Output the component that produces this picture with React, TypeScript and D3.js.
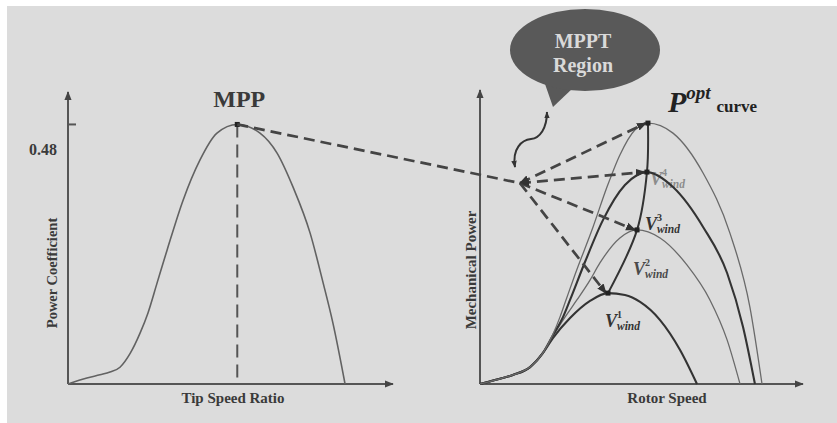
import React from "react";
import * as d3 from "d3";

const W = 837;
const H = 423;

// left panel: power coefficient against tip speed ratio
const tsr = [0, 0.7, 1.18, 1.55, 1.92, 2.3, 2.66, 2.95, 3.29, 3.66, 4.25, 4.87, 5.5, 6.25, 7.09, 7.72, 8.31, 8.94, 9.42, 9.78, 10.23];
const cp = [0, 0.011, 0.017, 0.022, 0.031, 0.057, 0.094, 0.131, 0.187, 0.248, 0.34, 0.414, 0.464, 0.48, 0.464, 0.427, 0.364, 0.279, 0.187, 0.113, 0];
const cpTickLabel = "0.48";

// right panel: mechanical power against rotor speed, one curve per wind speed
const windNames = ["1", "2", "3", "4"];
const speed1 = [0, 7.4, 16.3, 24.8, 31.2, 36.2, 44.6, 54.5, 63.4, 71.8, 79.3, 89.2, 99.1, 107.5];
const power1 = [0, 1.6, 3.7, 6.9, 12.7, 18.8, 26.9, 33.9, 37.1, 36.3, 33.5, 26.1, 13.9, 0];
const speed2 = [0, 7.4, 16.3, 24.8, 31.2, 36.2, 42.1, 48.0, 54.5, 59.4, 69.3, 77.8, 89.2, 102.5, 113.9, 122.4, 128.8];
const power2 = [0, 1.6, 3.7, 6.9, 12.7, 19.6, 27.3, 34.3, 42.4, 49.4, 59.6, 62.9, 59.6, 48.6, 34.3, 18.0, 0];
const speed3 = [0, 7.4, 16.3, 24.8, 31.2, 36.2, 41.1, 44.6, 52.0, 60.9, 71.8, 82.7, 95.6, 110.5, 122.4, 130.3, 136.2];
const power3 = [0, 1.6, 3.7, 6.9, 12.7, 20.0, 27.3, 34.3, 49.8, 66.9, 81.2, 86.5, 80.4, 64.1, 45.3, 23.3, 0];
const speed4 = [0, 7.4, 16.3, 24.8, 31.2, 36.2, 39.6, 42.6, 47.0, 56.0, 62.9, 69.3, 76.7, 83.2, 95.6, 110.5, 123.8, 133.7, 139.7];
const power4 = [0, 1.6, 3.7, 6.9, 12.7, 20.4, 27.3, 34.3, 44.5, 64.1, 80.4, 93.5, 103.7, 106.5, 102.4, 86.1, 61.6, 31.4, 0];

const SERIF = "'Liberation Serif', 'Times New Roman', serif";
const INK = "#3a3a3a";

export default function App() {
  // scales
  const xL = d3.scaleLinear().domain([0, 12]).range([68, 393]);
  const yL = d3.scaleLinear().domain([0, 0.54]).range([384, 92]);
  const xR = d3.scaleLinear().domain([0, 160]).range([480, 803]);
  const yR = d3.scaleLinear().domain([0, 120]).range([384, 90]);

  const cpPts: [number, number][] = tsr.map((t, i) => [t, cp[i]]);
  const lineL = d3.line<[number, number]>()
    .x(d => xL(d[0])).y(d => yL(d[1]))
    .curve(d3.curveMonotoneX);

  const series = [
    { s: speed1, p: power1, thick: true },
    { s: speed2, p: power2, thick: false },
    { s: speed3, p: power3, thick: true },
    { s: speed4, p: power4, thick: false },
  ].map((c, k) => {
    const pts: [number, number][] = c.s.map((v, i) => [v, c.p[i]]);
    const top = pts[d3.maxIndex(pts, d => d[1])];
    return { ...c, pts, top, name: windNames[k] };
  });

  const lineR = d3.line<[number, number]>()
    .x(d => xR(d[0])).y(d => yR(d[1]))
    .curve(d3.curveMonotoneX);
  const optLine = d3.line<[number, number]>()
    .x(d => xR(d[0])).y(d => yR(d[1]))
    .curve(d3.curveCatmullRom.alpha(0.5));

  const mppIdx = d3.maxIndex(cp);
  const mpp = { x: xL(tsr[mppIdx]), y: yL(cp[mppIdx]) };

  // point where the dashed guides meet
  const hub = { x: xR(19.8), y: yR(82) };

  // wavy double arrow to the bubble
  const wav = d3.path();
  wav.moveTo(hub.x - 5, hub.y - 16);
  wav.bezierCurveTo(hub.x - 8, hub.y - 35, hub.x + 2, hub.y - 43, hub.x + 11, hub.y - 44);
  wav.bezierCurveTo(hub.x + 20, hub.y - 45, hub.x + 27, hub.y - 55, hub.x + 27, hub.y - 71);

  // bubble
  const bub = { cx: 585, cy: 50, rx: 75, ry: 41 };

  const labelOffset = [[-3, 34], [-4, 45], [-2, 58], [2, 62]];
  const labelColor = ["#333", "#4a4a4a", "#333", "#8c8c8c"];

  const top4 = series[3].top;

  return (
    <div style={{ position: "absolute", left: 0, top: 0 }}>
      <svg width={W} height={H} style={{ display: "block", fontFamily: SERIF }}>
        <defs>
          <marker id="axArrow" viewBox="0 0 10 10" refX="9" refY="5" markerWidth="9" markerHeight="9"
            markerUnits="userSpaceOnUse" orient="auto">
            <path d="M0,1 L10,5 L0,9 z" fill="#444" />
          </marker>
          <marker id="dArrow" viewBox="0 0 10 10" refX="9" refY="5" markerWidth="10" markerHeight="10"
            markerUnits="userSpaceOnUse" orient="auto-start-reverse">
            <path d="M0,1 L10,5 L0,9 z" fill="#333" />
          </marker>
          <marker id="wArrow" viewBox="0 0 10 10" refX="9" refY="5" markerWidth="7" markerHeight="7"
            markerUnits="userSpaceOnUse" orient="auto-start-reverse">
            <path d="M0,1 L10,5 L0,9 z" fill="#333" />
          </marker>
        </defs>

        <rect x={0} y={0} width={W} height={H} fill="#fff" />
        <rect x={7} y={6} width={W - 7} height={H - 6} fill="#dcdcdc" />

        {/* left panel */}
        <line x1={xL(0)} y1={yL(0)} x2={xL(0)} y2={yL(0.54)} stroke="#555" strokeWidth={2} markerEnd="url(#axArrow)" />
        <line x1={xL(0)} y1={yL(0)} x2={xL(12)} y2={yL(0)} stroke="#555" strokeWidth={2} markerEnd="url(#axArrow)" />
        <line x1={xL(0)} x2={xL(0) + 8} y1={yL(cp[mppIdx])} y2={yL(cp[mppIdx])} stroke="#555" strokeWidth={2} />
        <text x={xL(0) - 11} y={yL(cp[mppIdx]) + 31} textAnchor="end" fontSize={16} fontWeight="bold" fill={INK}>{cpTickLabel}</text>
        <line x1={mpp.x} y1={mpp.y} x2={mpp.x} y2={yL(0)} stroke="#555" strokeWidth={2} strokeDasharray="13,7" />
        <path d={lineL(cpPts) || ""} fill="none" stroke="#626262" strokeWidth={1.6} />
        <rect x={mpp.x - 2.5} y={mpp.y - 2.5} width={5} height={5} fill="#222" />
        <text x={mpp.x + 2} y={107} textAnchor="middle" fontSize={24} fontWeight="bold" fill={INK}>MPP</text>
        <text x={233} y={403} textAnchor="middle" fontSize={15} fontWeight="bold" fill={INK}>Tip Speed Ratio</text>
        <text transform={`translate(57,273) rotate(-90)`} textAnchor="middle" fontSize={14.5} fontWeight="bold" fill={INK}>Power Coefficient</text>

        {/* right panel */}
        <line x1={xR(0)} y1={yR(0)} x2={xR(0)} y2={yR(120)} stroke="#555" strokeWidth={2} markerEnd="url(#axArrow)" />
        <line x1={xR(0)} y1={yR(0)} x2={xR(160)} y2={yR(0)} stroke="#555" strokeWidth={2} markerEnd="url(#axArrow)" />
        <text x={667} y={403} textAnchor="middle" fontSize={15} fontWeight="bold" fill={INK}>Rotor Speed</text>
        <text transform={`translate(476,270) rotate(-90)`} textAnchor="middle" fontSize={15} fontWeight="bold" fill={INK}>Mechanical Power</text>

        {series.map((c, k) => {
          const [dx, dy] = labelOffset[k];
          const lx = xR(c.top[0]) + dx;
          const ly = yR(c.top[1]) + dy;
          return (
            <g key={"lab" + k} fill={labelColor[k]} fontWeight="bold">
              <text x={lx} y={ly} fontSize={18} fontStyle="italic">V</text>
              <text x={lx + 12} y={ly - 9} fontSize={10}>{c.name}</text>
              <text x={lx + 12} y={ly + 3} fontSize={11.5} fontStyle="italic">wind</text>
            </g>
          );
        })}

        {series.map((c, k) => (
          <path key={"c" + k} d={lineR(c.pts) || ""} fill="none"
            stroke={c.thick ? "#333" : "#6a6a6a"} strokeWidth={c.thick ? 2.1 : 1.3} />
        ))}

        <path d={optLine(series.map(c => c.top)) || ""} fill="none" stroke="#333" strokeWidth={2} />

        {/* dashed guides */}
        <line x1={mpp.x} y1={mpp.y} x2={hub.x} y2={hub.y} stroke="#444" strokeWidth={2.7} strokeDasharray="11,6" />
        {series.map((c, k) => (
          <line key={"g" + k} x1={hub.x} y1={hub.y} x2={xR(c.top[0]) - 2} y2={yR(c.top[1])}
            stroke="#444" strokeWidth={2.7} strokeDasharray="11,6"
            markerEnd="url(#dArrow)" markerStart={k >= 2 ? "url(#dArrow)" : undefined} />
        ))}

        {series.map((c, k) => (
          <rect key={"m" + k} x={xR(c.top[0]) - 2.5} y={yR(c.top[1]) - 2.5} width={5} height={5} fill="#222" />
        ))}

        <path d={wav.toString()} fill="none" stroke="#333" strokeWidth={2} markerStart="url(#wArrow)" markerEnd="url(#wArrow)" />

        {/* speech bubble */}
        <path d={`M${bub.cx - 40},${bub.cy + 34} L${bub.cx - 32},${bub.cy + 57} L${bub.cx - 12},${bub.cy + 38} z`} fill="#595959" />
        <ellipse cx={bub.cx} cy={bub.cy} rx={bub.rx} ry={bub.ry} fill="#595959" />
        <text x={bub.cx - 2} y={bub.cy - 2} textAnchor="middle" fontSize={20} fontWeight="bold" fill="#d9d9d9">MPPT</text>
        <text x={bub.cx - 2} y={bub.cy + 22} textAnchor="middle" fontSize={20} fontWeight="bold" fill="#d9d9d9">Region</text>

        {/* P_opt label */}
        <text x={xR(top4[0]) + 20} y={yR(top4[1]) - 11} fontWeight="bold" fill="#222">
          <tspan fontSize={30} fontStyle="italic">P</tspan>
          <tspan fontSize={19} fontStyle="italic" dy={-13}>opt</tspan>
          <tspan fontSize={17} dx={6} dy={13}>curve</tspan>
        </text>
      </svg>
    </div>
  );
}
